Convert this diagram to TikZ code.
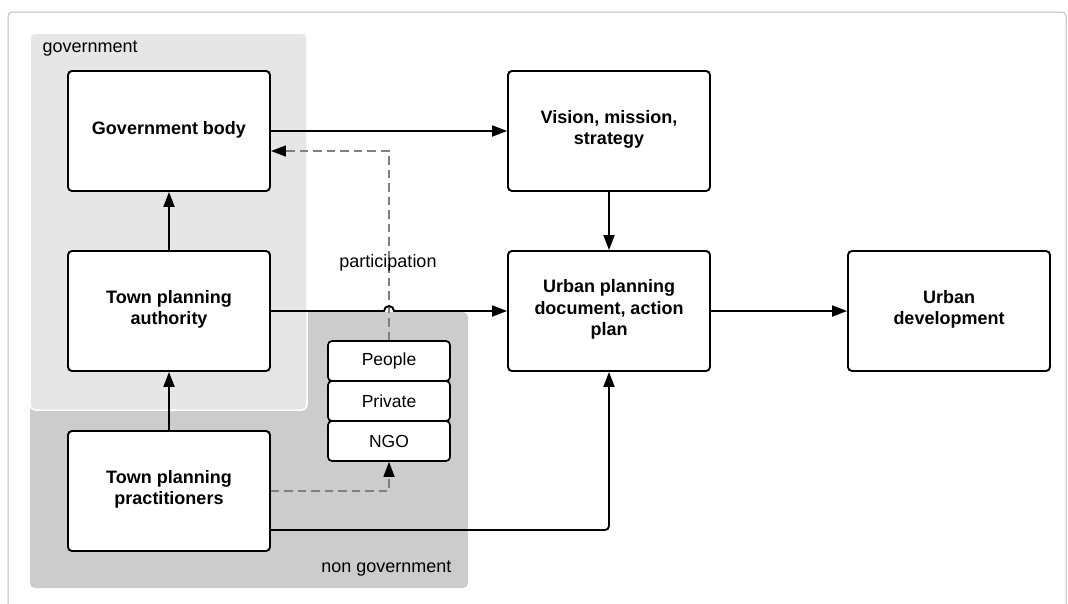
\documentclass[tikz,border=0pt]{standalone}
\usepackage{fontspec}
\setmainfont{Liberation Sans}
\usetikzlibrary{arrows.meta}
\definecolor{govfill}{HTML}{E6E6E6}
\definecolor{ngfill}{HTML}{CCCCCC}
\definecolor{framegray}{HTML}{BDBDBD}
\definecolor{dashgray}{HTML}{808080}
\begin{document}
\begin{tikzpicture}[x=1pt,y=-1pt,
  box/.style={draw=black, fill=white, line width=1.9pt, rounded corners=4pt,
    minimum width=202pt, minimum height=120pt, align=center, inner sep=0pt,
    text depth=7pt, font=\fontsize{18}{21.5}\selectfont\bfseries},
  tag/.style={draw=black, fill=white, line width=1.7pt, rounded corners=4pt,
    minimum width=122pt, minimum height=40pt, inner sep=0pt,
    font=\fontsize{17.5}{20}\selectfont},
  region/.style={font=\fontsize{18}{20}\selectfont},
  conn/.style={line width=1.9pt, -{Triangle[length=15pt,width=11pt]}},
  dashconn/.style={draw=dashgray, line width=1.5pt, dash pattern=on 8.5pt off 5pt,
    -{Triangle[length=15pt,width=11pt,fill=black,color=black]}}
]
\useasboundingbox (0,0) rectangle (1068,603);

% outer frame
\draw[framegray, line width=1pt, rounded corners=4pt] (8,610) -- (8,12) -- (1066,12) -- (1066,610);

% actor regions
\fill[ngfill, rounded corners=5pt] (30,312) rectangle (468,588);
\draw[fill=govfill, draw=white, line width=1.5pt, rounded corners=5pt] (30,33) rectangle (307,410);
\node[region, anchor=west] (govlbl) at (39,49) {government};
\node[region, anchor=east] (nglbl) at (455,569) {non government};

% main boxes
\node[box] (gb)   at (169,131) {Government body};
\node[box] (tpa)  at (169,311) {Town planning\\authority};
\node[box] (tpp)  at (169,491) {Town planning\\practitioners};
\node[box] (vis)  at (609,131) {Vision, mission,\\strategy};
\node[box] (upd)  at (609,311) {Urban planning\\document, action\\plan};
\node[box] (ud)   at (949,311) {Urban\\development};

% participants
\node[tag] (people)  at (389,361) {People};
\node[tag] (private) at (389,401) {Private};
\node[tag] (ngo)     at (389,441) {NGO};

% participation feedback (dashed)
\coordinate (pbend) at (389,151);
\draw[dashconn] (people.north) -- (pbend) -- (gb.east |- pbend);
\node[region] (plbl) at (388,263) {participation};

% practitioners to participants (dashed)
\draw[dashconn] (tpp.east) -| (ngo.south);

% solid flows
\draw[conn] (gb.east) -- (vis.west);
\draw[conn] (tpa.north) -- (gb.south);
\draw[conn] (tpp.north) -- (tpa.south);
\draw[conn] (vis.south) -- (upd.north);
\draw[conn] (upd.east) -- (ud.west);
\coordinate (hop) at (389,311);
\draw[conn] (tpa.east) -- ([xshift=-5pt]hop) arc[start angle=180, end angle=0, radius=5pt] -- (upd.west);
\draw[conn, rounded corners=4pt] ([yshift=-39pt]tpp.east) -| (upd.south);
\end{tikzpicture}
\end{document}
